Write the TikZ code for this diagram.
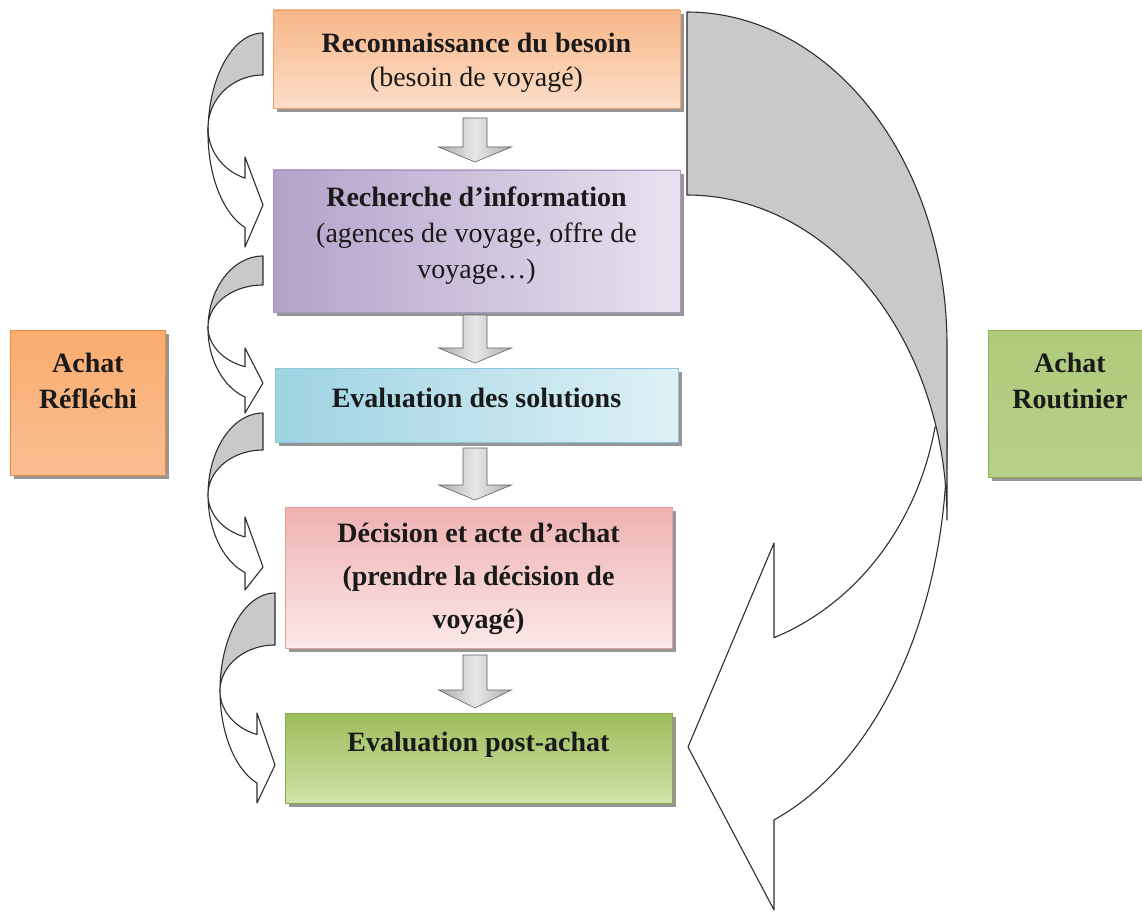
\documentclass[tikz,border=0pt]{standalone}
\usepackage{fontspec}
\setmainfont{Liberation Serif}
\usetikzlibrary{shadows}

\definecolor{ink}{HTML}{1A1A1A}
\definecolor{edge}{HTML}{2E2E2E}
\definecolor{bendgray}{HTML}{C9C9C9}

% gray block arrow pointing down: centre x, shaft top, head base, tip
\newcommand{\blockdown}[4]{%
  \draw[downarrow] (#1-12,#2) -- (#1+12,#2) -- (#1+12,#3) -- (#1+36.5,#3)
    -- (#1,#4) -- (#1-36.5,#3) -- (#1-12,#3) -- cycle;}

% small bent arrow on the left: right x, top y, band thickness,
% inner y-radius, outer y-radius, upper barb y, lower barb y, tip y
\newcommand{\bendright}[8]{%
  \draw[backface] plot[domain=270:180,samples=40] ({#1+55*cos(\x)},{#2+#5+#5*sin(\x)})
    -- plot[domain=180:270,samples=40] ({#1+55*cos(\x)},{#2+#3+#4+#4*sin(\x)}) -- cycle;
  \draw[frontface] plot[domain=180:109.1,samples=40] ({#1+55*cos(\x)},{#2+#5+#5*sin(\x)})
    -- (#1-18,#7) -- (#1,#8) -- (#1-18,#6)
    -- plot[domain=109.1:180,samples=40] ({#1+55*cos(\x)},{#2+#3+#4+#4*sin(\x)}) -- cycle;}

\begin{document}
\begin{tikzpicture}[x=1pt,y=-1pt,
  stage/.style={rectangle, inner sep=0pt, line width=0.6pt,
    drop shadow={shadow xshift=4pt, shadow yshift=-4pt, fill=black!55, opacity=0.75}},
  btxt/.style={align=center, text=ink, font=\fontsize{28}{34}\selectfont\bfseries},
  ntxt/.style={align=center, text=ink, font=\fontsize{28}{34}\selectfont},
  downarrow/.style={draw=gray!75!black, line width=0.6pt,
    left color=gray!65, right color=gray!65, middle color=gray!18},
  backface/.style={fill=bendgray, draw=edge, line width=1.1pt, line join=round},
  frontface/.style={fill=white, draw=edge, line width=1.1pt, line join=round}]
\useasboundingbox (0,0) rectangle (1142,912);
\clip (0,0) rectangle (1142,912);

% ---- stages of the buying process ----
\node[stage, minimum width=407pt, minimum height=98pt, draw={rgb,255:red,240;green,164;blue,110},
  top color={rgb,255:red,247;green,182;blue,136}, bottom color={rgb,255:red,252;green,222;blue,200}]
  (b1) at (476.5,59) {};
\node[stage, minimum width=407pt, minimum height=142pt, draw={rgb,255:red,168;green,150;blue,192},
  left color={rgb,255:red,180;green,162;blue,202}, right color={rgb,255:red,232;green,226;blue,239}]
  (b2) at (476.5,241) {};
\node[stage, minimum width=403pt, minimum height=74pt, draw={rgb,255:red,140;green,200;blue,218},
  left color={rgb,255:red,158;green,211;blue,226}, right color={rgb,255:red,221;green,241;blue,246}]
  (b3) at (476.5,405) {};
\node[stage, minimum width=387pt, minimum height=141pt, draw={rgb,255:red,227;green,160;blue,160},
  top color={rgb,255:red,239;green,177;blue,177}, bottom color={rgb,255:red,251;green,232;blue,232}]
  (b4) at (478.5,577.5) {};
\node[stage, minimum width=387pt, minimum height=90pt, draw={rgb,255:red,139;green,170;blue,76},
  top color={rgb,255:red,157;green,189;blue,92}, middle color={rgb,255:red,178;green,205;blue,124},
  bottom color={rgb,255:red,208;green,226;blue,168}]
  (b5) at (478.5,758) {};

% ---- the two kinds of purchase ----
\node[stage, minimum width=155pt, minimum height=145pt, draw={rgb,255:red,233;green,138;blue,60},
  top color={rgb,255:red,249;green,172;blue,110}, middle color={rgb,255:red,247;green,148;blue,70},
  bottom color={rgb,255:red,250;green,190;blue,146}]
  (ar) at (87.5,402.5) {};
\node[stage, minimum width=164pt, minimum height=147pt, draw={rgb,255:red,146;green,176;blue,82},
  top color={rgb,255:red,176;green,203;blue,124}, middle color={rgb,255:red,156;green,189;blue,90},
  bottom color={rgb,255:red,181;green,208;blue,136}]
  (ao) at (1070,403.5) {};

% ---- texts ----
\node[ntxt] (t1) at (476.5,63) {\textbf{Reconnaissance du besoin}\\(besoin de voyagé)};
\node[ntxt, font=\fontsize{28}{36}\selectfont] (t2) at (476.5,236)
  {\textbf{Recherche d’information}\\(agences de voyage, offre de\\voyage…)};
\node[btxt] (t3) at (476.5,398) {Evaluation des solutions};
\node[btxt, font=\fontsize{28}{43}\selectfont\bfseries] (t4) at (478.5,579)
  {Décision et acte d’achat\\(prendre la décision de\\voyagé)};
\node[btxt] (t5) at (478.5,745) {Evaluation post-achat};
\node[btxt, font=\fontsize{28}{36}\selectfont\bfseries] (tar) at (88,381) {Achat\\Réfléchi};
\node[btxt, font=\fontsize{28}{36}\selectfont\bfseries] (tao) at (1070,381) {Achat\\Routinier};

% ---- block arrows between the stages ----
\blockdown{475}{118}{147}{162}
\blockdown{475}{315}{348}{363}
\blockdown{475}{448}{485}{500}
\blockdown{475}{655}{690}{708}

% ---- bent arrows of the considered purchase ----
\bendright{263}{33}{42}{53}{100}{157}{247}{205}
\bendright{263}{256}{29}{42}{72.5}{348}{413}{383}
\bendright{263}{413}{37}{44.7}{82}{517}{590}{567}
\bendright{275}{593}{52}{46}{97.7}{713}{803}{765}

% ---- large bent arrow of the routine purchase ----
\draw[frontface] plot[domain=-2.1:70.45,samples=80] ({687+260*cos(\x)},{442+401*sin(\x)})
  -- (774,910) -- (688,747) -- (774,543)
  -- plot[domain=69.9:11.4,samples=80] ({687+253*cos(\x)},{371+284*sin(\x)}) -- cycle;
\draw[backface] plot[domain=-90:0,samples=80] ({687+260*cos(\x)},{345+333*sin(\x)})
  -- plot[domain=0:-90,samples=80] ({687+260*cos(\x)},{520+325*sin(\x)}) -- cycle;
\end{tikzpicture}
\end{document}
